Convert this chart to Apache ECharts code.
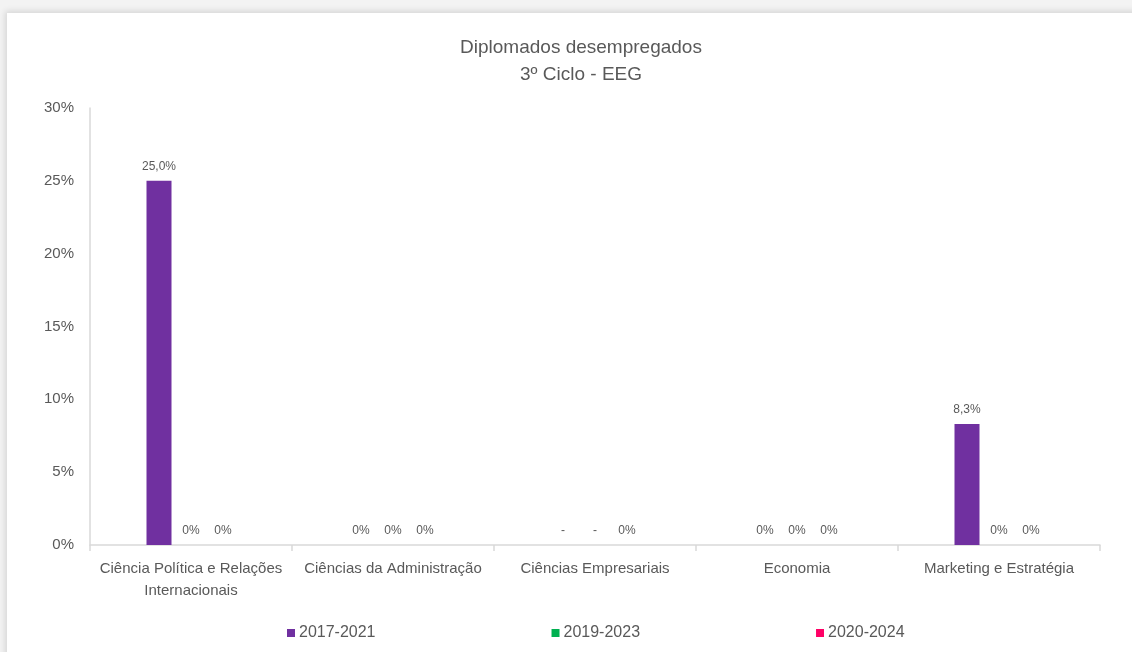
<!DOCTYPE html>
<html>
<head>
<meta charset="utf-8">
<script src="https://cdn.jsdelivr.net/npm/echarts@6/dist/echarts.min.js"></script>
<style>
html,body{margin:0;padding:0;background:#f3f3f3;width:1132px;height:652px;overflow:hidden;}
#card{position:absolute;left:7px;top:13px;width:1140px;height:660px;background:#fff;box-shadow:-2px -2px 6px rgba(0,0,0,0.12);}
#chart{position:absolute;left:0;top:0;width:1132px;height:652px;}
</style>
</head>
<body>
<div id="card"></div>
<div id="chart"></div>
<script>
const categories = ['Ciência Política e Relações\nInternacionais', 'Ciências da Administração', 'Ciências Empresariais', 'Economia', 'Marketing e Estratégia'];
const seriesNames = ['2017-2021', '2019-2023', '2020-2024'];
const values2017 = [25.0, 0, null, 0, 8.3];
const values2019 = [0, 0, null, 0, 0];
const values2020 = [0, 0, 0, 0, 0];
const seriesColors = ['#7030A0', '#00B050', '#FF0066'];
const yTicks = [0, 5, 10, 15, 20, 25, 30];

const FONT = '"Liberation Sans", Arial, sans-serif';
const TXT = '#595959';

function fmt(v) {
  if (v === 0) return '0%';
  return v.toFixed(1).replace('.', ',') + '%';
}
function mkData(arr) {
  return arr.map(v => v === null ? { value: 0, missing: true } : { value: v, missing: false });
}
const allValues = [values2017, values2019, values2020];
const series = allValues.map((arr, i) => ({
  name: seriesNames[i],
  type: 'bar',
  data: mkData(arr),
  barWidth: 25,
  barGap: '28%',
  itemStyle: { color: seriesColors[i] },
  label: {
    show: true,
    position: 'top',
    distance: 8,
    fontFamily: FONT,
    fontSize: 12,
    color: TXT,
    formatter: p => p.data.missing ? '-' : fmt(p.data.value)
  }
}));

const chart = echarts.init(document.getElementById('chart'), null, { renderer: 'canvas' });
chart.setOption({
  backgroundColor: 'transparent',
  textStyle: { fontFamily: FONT, color: TXT },
  title: {
    text: 'Diplomados desempregados\n3º Ciclo - EEG',
    left: 576,
    textAlign: 'center',
    top: 29,
    textStyle: { fontFamily: FONT, fontSize: 19, fontWeight: 'normal', color: TXT, lineHeight: 27 }
  },
  legend: {
    data: seriesNames,
    left: 282,
    top: 620,
    icon: 'rect',
    itemWidth: 8,
    itemHeight: 8,
    itemGap: 176,
    textStyle: { fontFamily: FONT, fontSize: 16, color: TXT, padding: [0, 0, 0, -1] }
  },
  grid: { left: 90, right: 32, top: 108, bottom: 107, containLabel: false },
  xAxis: {
    type: 'category',
    data: categories,
    axisLine: { show: true, lineStyle: { color: '#d9d9d9', width: 1.5 } },
    axisTick: { show: true, length: 6, alignWithLabel: false, lineStyle: { color: '#d9d9d9', width: 1.5 } },
    axisLabel: { fontFamily: FONT, fontSize: 15, color: TXT, margin: 13, lineHeight: 22, interval: 0 }
  },
  yAxis: {
    type: 'value',
    min: yTicks[0],
    max: yTicks[yTicks.length - 1],
    interval: 5,
    axisLine: { show: true, lineStyle: { color: '#d9d9d9', width: 1.5 } },
    axisTick: { show: false },
    splitLine: { show: false },
    axisLabel: { fontFamily: FONT, fontSize: 15, color: TXT, margin: 16, formatter: '{value}%' }
  },
  series: series
});
</script>
</body>
</html>
